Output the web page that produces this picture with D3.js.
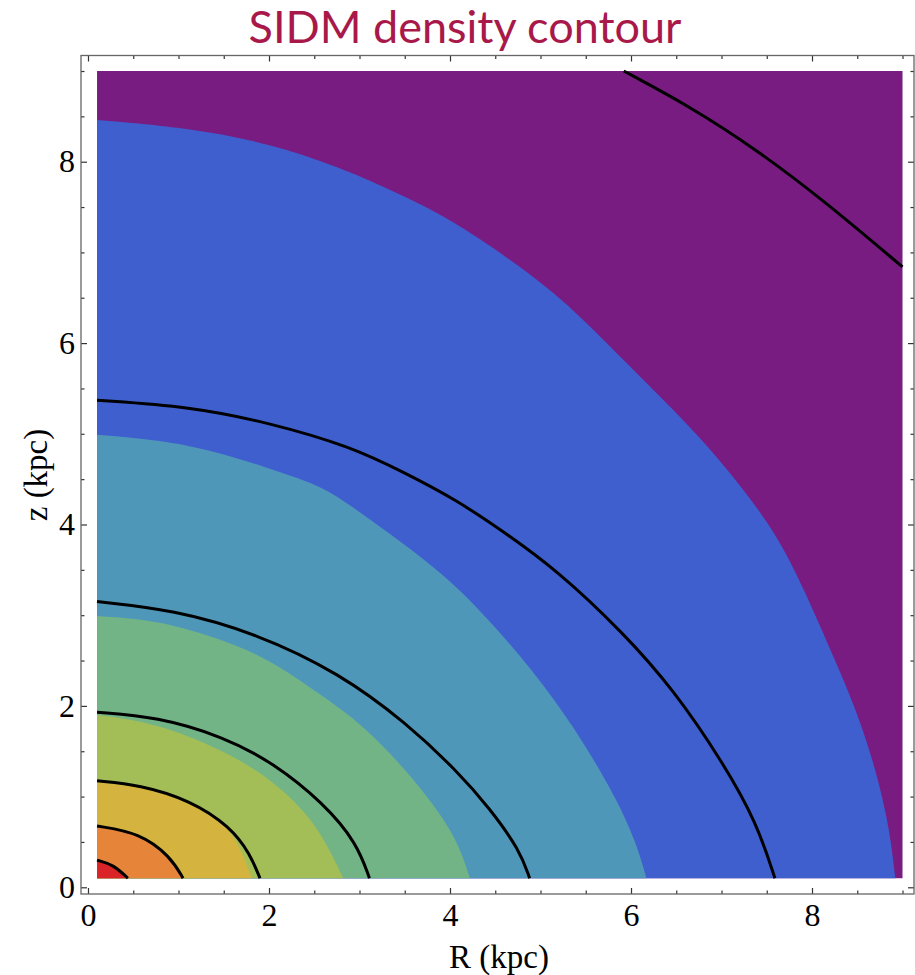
<!DOCTYPE html>
<html>
<head>
<meta charset="UTF-8">
<title>SIDM density contour</title>
<style>
  body { margin: 0; background: #ffffff; }
  svg { display: block; }
  .tick text { font-family: "Liberation Serif", "Times New Roman", serif; font-size: 32px; fill: #000; }
</style>
</head>
<body>
<svg></svg>
<script src="https://d3js.org/d3.v7.min.js"></script>
<script>

// band colours, outer -> inner
const bandColors = ["#781C81", "#3F5FCF", "#4F97B9", "#72B486", "#A3BE57", "#D4B33F", "#E6843A", "#DB2428"];

// filled band boundaries (R, z), outer -> inner
const blueEdge = [[0.1,8.46],[1.13,8.37],[2.01,8.20],[2.78,7.94],[3.34,7.69],[3.89,7.43],[4.44,7.08],[5.18,6.55],[5.73,6.0],[6.28,5.45],[6.65,5.08],[7.08,4.6],[7.61,3.90],[7.90,3.31],[8.27,2.47],[8.49,1.95],[8.71,1.29],[8.86,0.63],[8.92,0.1]];
const tealEdge = [[0.1,4.99],[1.13,4.90],[2.03,4.61],[2.6,4.42],[2.97,4.16],[3.89,3.5],[4.44,2.95],[5.18,2.07],[5.80,1.07],[6.06,0.49],[6.17,0.1]];
const greenEdge = [[0.1,2.99],[0.76,2.95],[1.5,2.73],[2.05,2.49],[2.6,2.10],[2.97,1.84],[3.34,1.48],[3.7,1.07],[4.07,0.56],[4.22,0.1]];
const ygEdge = [[0.1,1.90],[0.76,1.81],[1.5,1.51],[2.05,1.18],[2.53,0.71],[2.82,0.1]];
const yellowEdge = [[0.1,1.16],[0.76,1.09],[1.31,0.89],[1.64,0.56],[1.81,0.1]];
const orangeEdge = [[0.1,0.676],[0.57,0.60],[0.91,0.34],[1.05,0.1]];
const redEdge = [[0.1,0.31],[0.28,0.25],[0.445,0.1]];

// black contour lines
const line1 = [[0.1,0.30],[0.28,0.25],[0.44,0.1]];
const line2 = [[0.1,0.676],[0.57,0.60],[0.91,0.34],[1.05,0.1]];
const line3 = [[0.1,1.175],[0.57,1.13],[1.13,0.96],[1.57,0.67],[1.79,0.37],[1.9,0.1]];
const line4 = [[0.1,1.93],[0.76,1.88],[1.5,1.66],[2.05,1.37],[2.6,0.93],[2.97,0.49],[3.11,0.1]];
const line5 = [[0.1,3.15],[0.94,3.06],[1.86,2.80],[2.78,2.36],[3.52,1.81],[4.07,1.29],[4.44,0.87],[4.77,0.41],[4.88,0.1]];
const line6 = [[0.1,5.37],[1.13,5.30],[2.01,5.12],[2.9,4.86],[3.5,4.57],[4.07,4.27],[4.55,3.95],[5.18,3.50],[5.92,2.80],[6.47,2.18],[7.02,1.37],[7.39,0.71],[7.59,0.1]];
const line7 = [[5.92,9.0],[6.65,8.61],[7.39,8.13],[8.12,7.58],[9.0,6.84]];

const majorTicks = [0, 2, 4, 6, 8];
const minorTicks = [0.5, 1, 1.5, 2.5, 3, 3.5, 4.5, 5, 5.5, 6.5, 7, 7.5, 8.5, 9];
const dataExtent = [0.1, 9];

const width = 915, height = 975;
const svg = d3.select("svg").attr("width", width).attr("height", height);

const mLeft = 81, mRight = 914, mTop = 55.5, mBottom = 894;
const x = d3.scaleLinear().domain([-0.0773, 9.127]).range([mLeft, mRight]);
const y = d3.scaleLinear().domain([-0.074, 9.171]).range([mBottom, mTop]);

// outer band = data region background
svg.append("rect")
    .attr("x", x(dataExtent[0]))
    .attr("y", y(dataExtent[1]))
    .attr("width", x(dataExtent[1]) - x(dataExtent[0]))
    .attr("height", y(dataExtent[0]) - y(dataExtent[1]))
    .attr("fill", bandColors[0]);

const curve = d3.line()
    .x(d => x(d[0]))
    .y(d => y(d[1]))
    .curve(d3.curveBasis);

const edges = [blueEdge, tealEdge, greenEdge, ygEdge, yellowEdge, orangeEdge, redEdge];
svg.append("g")
  .selectAll("path")
  .data(edges)
  .enter()
  .append("path")
    .attr("d", d => curve(d) + "L" + x(dataExtent[0]) + "," + y(dataExtent[0]) + "Z")
    .attr("fill", (d, i) => bandColors[i + 1]);

svg.append("g")
  .selectAll("path")
  .data([line1, line2, line3, line4, line5, line6, line7])
  .enter()
  .append("path")
    .attr("d", curve)
    .attr("fill", "none")
    .attr("stroke", "#000")
    .attr("stroke-width", 3);

// frame + ticks
function styleAxis(g) {
  g.select(".domain").remove();
  g.selectAll(".tick line").attr("stroke", "#333").attr("stroke-width", 1.2);
}
function clearFont(g) {
  g.attr("font-family", null).attr("font-size", null);
}

svg.append("g").attr("transform", `translate(0,${mBottom})`)
  .call(d3.axisBottom(x).tickValues(majorTicks).tickSize(-6).tickPadding(9).tickFormat(d3.format("d")))
  .call(styleAxis).call(clearFont);
svg.append("g").attr("transform", `translate(0,${mBottom})`)
  .call(d3.axisBottom(x).tickValues(minorTicks).tickSize(-3.5).tickFormat(""))
  .call(styleAxis);
svg.append("g").attr("transform", `translate(0,${mTop})`)
  .call(d3.axisTop(x).tickValues(majorTicks).tickSize(-6).tickFormat(""))
  .call(styleAxis);
svg.append("g").attr("transform", `translate(0,${mTop})`)
  .call(d3.axisTop(x).tickValues(minorTicks).tickSize(-3.5).tickFormat(""))
  .call(styleAxis);

svg.append("g").attr("transform", `translate(${mLeft},0)`)
  .call(d3.axisLeft(y).tickValues(majorTicks).tickSize(-6).tickPadding(6).tickFormat(d3.format("d")))
  .call(styleAxis).call(clearFont);
svg.append("g").attr("transform", `translate(${mLeft},0)`)
  .call(d3.axisLeft(y).tickValues(minorTicks).tickSize(-3.5).tickFormat(""))
  .call(styleAxis);
svg.append("g").attr("transform", `translate(${mRight},0)`)
  .call(d3.axisRight(y).tickValues(majorTicks).tickSize(-6).tickFormat(""))
  .call(styleAxis);
svg.append("g").attr("transform", `translate(${mRight},0)`)
  .call(d3.axisRight(y).tickValues(minorTicks).tickSize(-3.5).tickFormat(""))
  .call(styleAxis);

svg.append("rect")
    .attr("x", mLeft).attr("y", mTop)
    .attr("width", mRight - mLeft).attr("height", mBottom - mTop)
    .attr("fill", "none")
    .attr("stroke", "#666")
    .attr("stroke-width", 1.3);

// labels
svg.append("text")
    .attr("x", 499).attr("y", 968)
    .attr("text-anchor", "middle")
    .attr("font-family", "Liberation Serif, serif")
    .attr("font-size", 33)
    .text("R (kpc)");

svg.append("text")
    .attr("transform", "translate(47,475) rotate(-90)")
    .attr("text-anchor", "middle")
    .attr("font-family", "Liberation Serif, serif")
    .attr("font-size", 33)
    .text("z (kpc)");

svg.append("text")
    .attr("x", 465).attr("y", 43)
    .attr("text-anchor", "middle")
    .attr("font-family", "Lato, sans-serif")
    .attr("font-size", 45)
    .attr("fill", "#A8194A")
    .text("SIDM density contour");

</script>
</body>
</html>
